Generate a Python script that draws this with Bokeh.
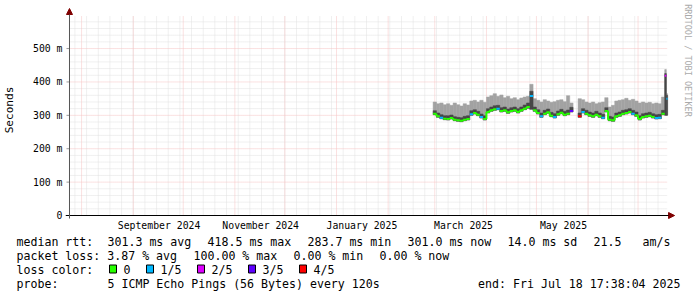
import re
from datetime import datetime
import pandas as pd
from bokeh.plotting import figure
from bokeh.models import Range1d, FixedTicker, Arrow, NormalHead, ColumnDataSource
from bokeh.layouts import column
from bokeh.embed import file_html
from bokeh.resources import INLINE
from bokeh.core.properties import value

# ---------------- data ----------------
START = datetime(2024, 7, 24, 17, 38, 4)
END = datetime(2025, 7, 18, 17, 38, 4)

# segment 1: 2-day consolidated samples from 2025-02-28
seg1_times = pd.date_range("2025-02-28", periods=42, freq="2D")
seg1_end = pd.Timestamp("2025-05-23")
med1 = [305, 297, 293, 290, 289, 292, 287, 285, 283.7, 287, 289, 303, 307, 302, 295, 289, 310, 315, 318, 320, 313,
        315, 309, 313, 315, 310, 315, 320, 325, 358, 315, 307, 297, 305, 309, 299, 295, 303, 308, 302, 305, 313]
top1 = [340, 335, 337, 332, 335, 330, 337, 332, 328, 335, 331, 343, 345, 340, 345, 339, 355, 359, 365, 357, 361,
        353, 357, 350, 353, 347, 352, 355, 357, 393, 350, 345, 340, 347, 343, 339, 341, 345, 347, 341, 359, 337]
ihi1 = [314, 307, 302, 299, 299, 301, 296, 294, 293, 297, 299, 314, 317, 312, 304, 299, 320, 325, 329, 330, 323,
        325, 319, 323, 325, 320, 325, 331, 337, 372, 325, 317, 307, 315, 319, 309, 305, 313, 318, 312, 316, 324]
ilo1 = [302, 294, 290, 287, 286, 289, 284, 282, 281, 284, 286, 300, 304, 299, 292, 286, 307, 312, 315, 317, 310,
        312, 306, 310, 312, 307, 312, 317, 321, 318, 312, 304, 294, 302, 306, 296, 292, 300, 305, 299, 302, 310]
loss1 = [0, 0, 1, 0, 0, 0, 0, 0, 0, 0, 0, 1, 0, 0, 1, 0, 0, 0, 0, 1, 0,
         0, 0, 0, 0, 0, 0, 0, 0, 1, 0, 0, 1, 0, 0, 0, 1, 0, 0, 0, 0, 3]

# segment 2: after the outage
seg2_times = list(pd.date_range("2025-05-26", "2025-07-15", freq="2D")) + [pd.Timestamp("2025-07-17"),
                                                                          pd.Timestamp("2025-07-18")]
seg2_end = pd.Timestamp(END)
med2 = [297, 310, 305, 300, 297, 302, 297, 293, 313, 287, 285, 297, 300, 305, 307, 310, 305, 300, 289, 295, 297,
        299, 295, 292, 293, 305, 418.5, 350]
top2 = [350, 347, 340, 337, 340, 335, 338, 340, 353, 325, 330, 343, 345, 347, 351, 345, 348, 343, 337, 340, 337,
        339, 335, 337, 335, 355, 437, 365]
ihi2 = [307, 320, 315, 310, 307, 312, 307, 303, 323, 297, 295, 307, 310, 315, 317, 320, 315, 310, 299, 305, 307,
        309, 305, 302, 303, 315, 425, 360]
ilo2 = [294, 307, 302, 297, 294, 299, 294, 290, 310, 284, 282, 294, 297, 302, 304, 307, 302, 297, 286, 292, 294,
        296, 292, 289, 290, 302, 300, 300]
loss2 = [4, 1, 0, 0, 0, 0, 0, 1, 0, 0, 0, 0, 0, 0, 0, 0, 1, 0, 0, 0, 0,
         0, 0, 1, 1, 0, 2, 1]

loss_labels = ["0", "1/5", "2/5", "3/5", "4/5"]
loss_colors = ["#26ff00", "#00b8ff", "#dd00ff", "#5e00ff", "#ff0000"]

Y_MAX = 599
y_ticks = [0, 100, 200, 300, 400, 500]
y_labels = ["0", "100 m", "200 m", "300 m", "400 m", "500 m"]

x_label_times = ["2024-09-16 12:00", "2024-11-16 12:00", "2025-01-16 06:00", "2025-03-18 06:00", "2025-05-17 06:00"]
x_labels = ["September 2024", "November 2024", "January 2025", "March 2025", "May 2025"]

line1 = ["median rtt:  301.3 ms avg", "418.5 ms max", "283.7 ms min", "301.0 ms now", "14.0 ms sd", "21.5   am/s"]
line2 = ["packet loss: 3.87 % avg", "100.00 % max", "0.00 % min", "0.00 % now"]
line3_head = "loss color:"
probe_text = "probe:       5 ICMP Echo Pings (56 Bytes) every 120s"
end_text = "end: Fri Jul 18 17:38:04 2025"
watermark = "RRDTOOL / TOBI OETIKER"


def ms(ts):
    return pd.Timestamp(ts).value / 1e6


# ---------------- layout geometry (canvas px) ----------------
PL, PR, PT, PB = 67, 667, 15, 215         # plot area
FL, FT, FB = 63, 0, 219                   # frame left / top / bottom (frame right = 697)
MPP = (ms(END) - ms(START)) / (PR - PL)   # ms per pixel
UPP = Y_MAX / (PB - PT)                   # value units per pixel


def px_x(px):
    return ms(START) + (px - PL) * MPP


def px_y(py):
    return (PB - py) * UPP


FONT = "DejaVu Sans Mono"

p = figure(width=697, height=233, x_range=Range1d(px_x(FL), px_x(697)), y_range=Range1d(px_y(FB), px_y(FT)),
           x_axis_type="datetime", output_backend="svg", toolbar_location=None,
           min_border_left=FL, min_border_right=0, min_border_top=FT, min_border_bottom=233 - FB)
p.outline_line_color = None
p.background_fill_color = "white"
p.border_fill_color = "white"
p.grid.visible = False
p.frame_align = False

# grid lines (limited to the plot area)
weeks = [ms(t) for t in pd.date_range("2024-07-28", "2025-07-18", freq="7D")]
months = [ms(t) for t in pd.date_range("2024-08-01", "2025-07-01", freq="MS")]
minor_y = [v for v in range(20, 600, 20) if v % 100 != 0]
major_y = [100, 200, 300, 400, 500]
GRID_MINOR = "#e0e0e0"
GRID_MAJOR = "#f6c2c2"
p.segment(x0=weeks, x1=weeks, y0=[0] * len(weeks), y1=[Y_MAX] * len(weeks),
          line_color=GRID_MINOR, line_dash="1 1", line_width=1)
p.segment(x0=[ms(START)] * len(minor_y), x1=[ms(END)] * len(minor_y), y0=minor_y, y1=minor_y,
          line_color=GRID_MINOR, line_dash="1 1", line_width=1)
p.segment(x0=months, x1=months, y0=[0] * len(months), y1=[Y_MAX] * len(months),
          line_color=GRID_MAJOR, line_dash="1 1", line_width=1)
p.segment(x0=[ms(START)] * len(major_y), x1=[ms(END)] * len(major_y), y0=major_y, y1=major_y,
          line_color=GRID_MAJOR, line_dash="1 1", line_width=1)


def build(times, end, med, top, ihi, ilo, loss):
    t = [pd.Timestamp(x) for x in times]
    right = t[1:] + [pd.Timestamp(end)]
    cols = [loss_colors[k] for k in loss]
    main = ColumnDataSource(dict(left=t, right=right, top=top, ihi=ihi, ilo=ilo, med=med, col=cols))
    keep = [i for i in range(1, len(t)) if loss[i] == loss[i - 1]]
    conn = ColumnDataSource(dict(x=[t[i] for i in keep], y0=[med[i - 1] for i in keep],
                                 y1=[med[i] for i in keep], col=[cols[i] for i in keep]))
    return main, conn


for args in [(seg1_times, seg1_end, med1, top1, ihi1, ilo1, loss1),
             (seg2_times, seg2_end, med2, top2, ihi2, ilo2, loss2)]:
    src, conn = build(*args)
    p.quad(left="left", right="right", bottom="ilo", top="top", source=src,
           fill_color="#a2a2a2", line_color="#a2a2a2", line_width=0.5)
    p.quad(left="left", right="right", bottom="ilo", top="ihi", source=src,
           fill_color="#474747", line_color="#474747", line_width=0.5)
    p.segment(x0="x", x1="x", y0="y0", y1="y1", source=conn, line_color="col", line_width=2)
    p.segment(x0="left", x1="right", y0="med", y1="med", source=src, line_color="col", line_width=2)

# y tick marks just left of the axis
p.segment(x0=[px_x(PL - 3)] * len(y_ticks), x1=[ms(START)] * len(y_ticks), y0=y_ticks, y1=y_ticks,
          line_color="#999999", line_width=1)

# axis lines with arrow heads
p.add_layout(Arrow(x_start=px_x(FL), y_start=0, x_end=px_x(674), y_end=0,
                   line_color="black", line_width=1,
                   end=NormalHead(size=6, fill_color="#7f0000", line_color="#7f0000")))
p.add_layout(Arrow(x_start=ms(START), y_start=px_y(PB + 3), x_end=ms(START), y_end=px_y(8),
                   line_color="#555555", line_width=1,
                   end=NormalHead(size=6, fill_color="#7f0000", line_color="#7f0000")))

# watermark along the right edge
p.text(x=[px_x(687.5)], y=[px_y(60)], text=[watermark], angle=-1.5708, text_font=value(FONT),
       text_font_size="8.5px", text_color="#aaaaaa", text_align="center", text_baseline="middle")

# axes (tick labels)
p.yaxis.ticker = FixedTicker(ticks=y_ticks)
p.yaxis.major_label_overrides = {t: l for t, l in zip(y_ticks, y_labels)}
p.yaxis.axis_line_color = None
p.yaxis.major_tick_line_color = None
p.yaxis.minor_tick_line_color = None
p.yaxis.major_tick_out = 0
p.yaxis.major_tick_in = 0
p.yaxis.major_label_standoff = 3
p.yaxis.major_label_text_font = FONT
p.yaxis.major_label_text_font_size = "9.8px"
p.yaxis.major_label_text_color = "black"
p.yaxis.axis_label = "Seconds"
p.yaxis.axis_label_text_font = FONT
p.yaxis.axis_label_text_font_size = "11.1px"
p.yaxis.axis_label_text_font_style = "normal"
p.yaxis.axis_label_text_color = "black"
p.yaxis.axis_label_standoff = 14

xt = [ms(t) for t in x_label_times]
p.xaxis.ticker = FixedTicker(ticks=xt)
p.xaxis.major_label_overrides = {t: l for t, l in zip(xt, x_labels)}
p.xaxis.axis_line_color = None
p.xaxis.major_tick_line_color = None
p.xaxis.minor_tick_line_color = None
p.xaxis.major_tick_out = 0
p.xaxis.major_tick_in = 0
p.xaxis.major_label_standoff = 0
p.xaxis.major_label_text_font = FONT
p.xaxis.major_label_text_font_size = "9.8px"
p.xaxis.major_label_text_color = "black"

# ---------------- legend strip (pixel coordinates) ----------------
lg = figure(width=697, height=64, x_range=Range1d(0, 697), y_range=Range1d(297, 233),
            output_backend="svg", toolbar_location=None, min_border=0,
            min_border_left=0, min_border_right=0, min_border_top=0, min_border_bottom=0,
            x_axis_location=None, y_axis_location=None)
lg.grid.visible = False
lg.outline_line_color = None
lg.background_fill_color = "white"
lg.border_fill_color = "white"
lg.frame_align = False

CW = 7.0
GAP = 16.0
tx, ty, tt = [], [], []


def put(s, x0, y):
    for m in re.finditer(r"\S+(?: \S+)*", s):
        tx.append(x0 + m.start() * CW)
        ty.append(y)
        tt.append(m.group())
    return x0 + len(s) * CW + GAP


x = 16.0
for s in line1:
    x = put(s, x, 241.3)
x = 16.0
for s in line2:
    x = put(s, x, 255.3)
x = put(line3_head, 16.0, 269.3)
bl, br = [], []
for lab in loss_labels:
    bl.append(x)
    br.append(x + 7)
    x = put("  " + lab, x, 269.3)
put(probe_text, 16.0, 283.7)

lg.text(x=tx, y=ty, text=tt, text_font=value(FONT), text_font_size="11.6px", text_baseline="middle",
        text_align="left", text_color="black")
lg.text(x=[680], y=[283.7], text=[end_text], text_font=value(FONT), text_font_size="11.6px",
        text_baseline="middle", text_align="right", text_color="black")
lg.quad(left=bl, right=br, top=[264.5] * 5, bottom=[272.5] * 5, fill_color=loss_colors,
        line_color="black", line_width=1)

layout = column(p, lg, spacing=0)
open("out.html", "w").write(file_html(layout, INLINE))
